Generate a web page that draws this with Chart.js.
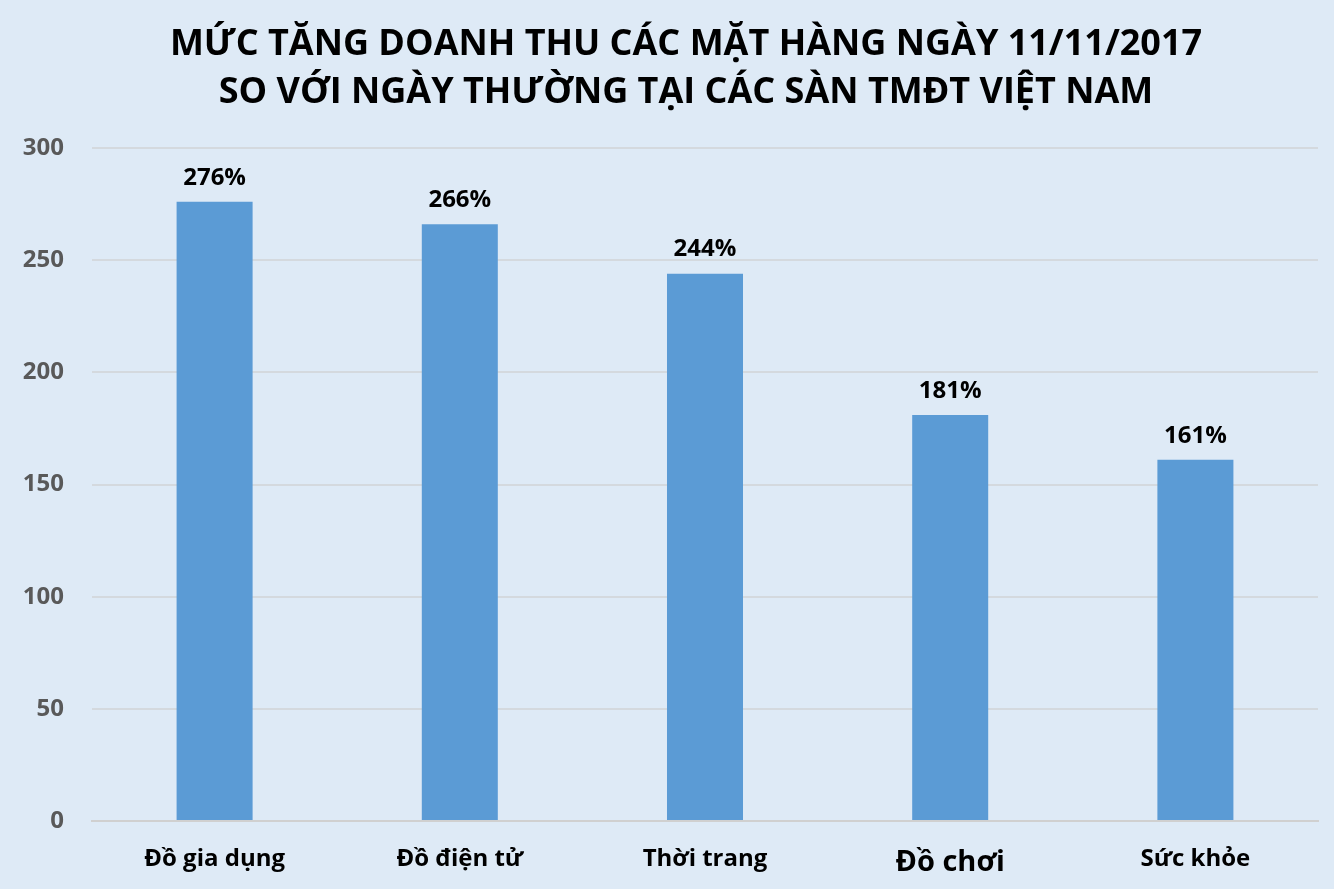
<!DOCTYPE html>
<html>
<head>
<meta charset="utf-8">
<script src="https://cdn.jsdelivr.net/npm/chart.js@4/dist/chart.umd.min.js"></script>
<style>
  html, body { margin: 0; padding: 0; background: #DEEAF6; }
  #wrap { width: 1334px; height: 889px; }
</style>
</head>
<body>
<div id="wrap"><canvas id="doanhThuChart" width="1334" height="889"></canvas></div>
<script>
const categories = ["Đồ gia dụng", "Đồ điện tử", "Thời trang", "Đồ chơi", "Sức khỏe"];
const growthValues = [276, 266, 244, 181, 161];
const yTicks = [0, 50, 100, 150, 200, 250, 300];
const titleLines = [
    "MỨC TĂNG DOANH THU CÁC MẶT HÀNG NGÀY 11/11/2017",
    "SO VỚI NGÀY THƯỜNG TẠI CÁC SÀN TMĐT VIỆT NAM"
];

const fontFamily = "'Liberation Sans Narrow', 'Open Sans', sans-serif";

// tiêu đề 2 dòng (lệch phải một chút như ảnh gốc)
const tieuDe = {
    id: "tieuDe",
    afterDraw(chart) {
        const ctx = chart.ctx;
        ctx.save();
        ctx.font = "bold 36px " + fontFamily;
        ctx.fillStyle = "#000000";
        ctx.textAlign = "center";
        ctx.textBaseline = "middle";
        titleLines.forEach((line, i) => {
            ctx.fillText(line, 686, 45 + i * 48);
        });
        ctx.restore();
    }
};

// nhãn % trên đầu cột
const barLabels = {
    id: "barLabels",
    afterDatasetsDraw(chart) {
        const ctx = chart.ctx;
        const meta = chart.getDatasetMeta(0);
        ctx.save();
        ctx.font = "bold 24px " + fontFamily;
        ctx.fillStyle = "#000000";
        ctx.textAlign = "center";
        ctx.textBaseline = "middle";
        meta.data.forEach((bar, i) => {
            ctx.fillText(growthValues[i] + "%", bar.x, bar.y - 24);
        });
        ctx.restore();
    }
};

new Chart(document.getElementById("doanhThuChart"), {
    type: "bar",
    data: {
        labels: categories,
        datasets: [{
            data: growthValues,
            backgroundColor: "#5B9BD5",
            categoryPercentage: 1.0,
            barPercentage: 0.31
        }]
    },
    options: {
        responsive: false,
        animation: false,
        layout: { padding: { left: 0, right: 16, top: 148, bottom: 0 } },
        plugins: {
            legend: { display: false },
            tooltip: { enabled: false },
            title: { display: false }
        },
        scales: {
            x: {
                afterFit: axis => { axis.height = 68; },
                grid: { display: false, drawTicks: false },
                border: { color: "#D0D0D0", width: 2 },
                ticks: {
                    color: "#000000",
                    padding: 24,
                    font: ctx => ({
                        family: fontFamily,
                        size: ctx.index === 3 ? 29 : 24,
                        weight: "bold"
                    })
                }
            },
            y: {
                min: 0,
                max: 300,
                afterBuildTicks: axis => { axis.ticks = yTicks.map(v => ({ value: v })); },
                afterFit: axis => { axis.width = 92; },
                grid: { color: "#D4D9DE", lineWidth: 2, drawTicks: false },
                border: { display: false },
                ticks: {
                    color: "#595959",
                    padding: 28,
                    font: { family: fontFamily, size: 24, weight: "bold" }
                }
            }
        }
    },
    plugins: [barLabels, tieuDe]
});
</script>
</body>
</html>
